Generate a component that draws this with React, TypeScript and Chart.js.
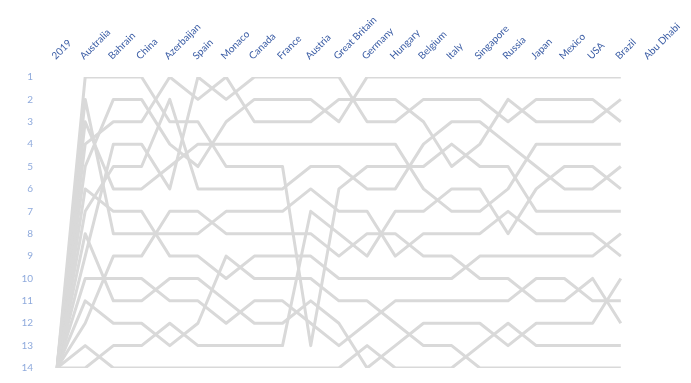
import { useEffect, useRef } from "react";
import { Chart, registerables } from "chart.js";

Chart.register(...registerables);

const categories = [
  "2019", "Australia", "Bahrain", "China", "Azerbaijan", "Spain", "Monaco", "Canada",
  "France", "Austria", "Great Britain", "Germany", "Hungary", "Belgium", "Italy",
  "Singapore", "Russia", "Japan", "Mexico", "USA", "Brazil", "Abu Dhabi",
];

const rankTicks = [1, 2, 3, 4, 5, 6, 7, 8, 9, 10, 11, 12, 13, 14];

const s1 = [14, 1, 1, 1, 3, 3, 5, 5, 5, 13, 6, 5, 5, 5, 4, 5, 5, 7, 7, 7, 7];
const s2 = [14, 2, 8, 8, 8, 8, 7, 7, 7, 6, 7, 7, 9, 8, 8, 8, 7, 8, 8, 8, 9];
const s3 = [14, 3, 6, 6, 5, 4, 4, 4, 4, 4, 4, 4, 4, 6, 7, 7, 6, 4, 4, 4, 4];
const s4 = [14, 4, 3, 3, 1, 2, 1, 3, 3, 3, 2, 2, 2, 3, 5, 4, 2, 3, 3, 3, 2];
const s5 = [14, 5, 2, 2, 4, 5, 3, 2, 2, 2, 3, 1, 1, 1, 1, 1, 1, 1, 1, 1, 1];
const s6 = [14, 6, 7, 7, 9, 9, 10, 9, 9, 9, 10, 10, 10, 10, 10, 9, 9, 9, 9, 9, 8];
const s7 = [14, 7, 5, 5, 2, 6, 6, 6, 6, 5, 5, 6, 6, 4, 3, 3, 4, 5, 6, 6, 5];
const s8 = [14, 8, 11, 11, 10, 10, 11, 12, 12, 11, 12, 14, 13, 12, 12, 12, 13, 12, 12, 12, 10];
const s9 = [14, 9, 4, 4, 6, 1, 2, 1, 1, 1, 1, 3, 3, 2, 2, 2, 3, 2, 2, 2, 3];
const s10 = [14, 10, 10, 10, 11, 11, 12, 11, 11, 12, 13, 12, 11, 11, 11, 11, 11, 10, 10, 11, 11];
const s11 = [14, 11, 12, 12, 13, 12, 9, 10, 10, 10, 11, 11, 12, 13, 13, 14, 14, 14, 14, 14, 14];
const s12 = [14, 12, 9, 9, 7, 7, 8, 8, 8, 8, 9, 8, 8, 9, 9, 10, 10, 11, 11, 10, 12];
const s13 = [14, 13, 14, 14, 14, 14, 14, 14, 14, 14, 14, 13, 14, 14, 14, 13, 12, 13, 13, 13, 13];
const s14 = [14, 14, 13, 13, 12, 13, 13, 13, 13, 7, 8, 9, 7, 7, 6, 6, 8, 6, 5, 5, 6];

const allSeries = [s1, s2, s3, s4, s5, s6, s7, s8, s9, s10, s11, s12, s13, s14];

export default function App() {
  const ref = useRef<HTMLCanvasElement | null>(null);

  useEffect(() => {
    if (!ref.current) return;
    const chart = new Chart(ref.current, {
      type: "line",
      data: {
        labels: categories,
        datasets: allSeries.map((s, i) => ({
          label: "Series " + (i + 1),
          data: s,
          borderColor: "#D9D9D9",
          backgroundColor: "#D9D9D9",
          borderWidth: 3,
          pointRadius: 0,
          pointHoverRadius: 0,
          fill: false,
          tension: 0,
          borderJoinStyle: "round" as const,
        })),
      },
      options: {
        animation: false,
        responsive: false,
        maintainAspectRatio: false,
        layout: { padding: { left: 0, right: 42, top: 0, bottom: 15 } },
        plugins: { legend: { display: false }, tooltip: { enabled: false } },
        scales: {
          x: {
            position: "top",
            offset: false,
            grid: { display: false, drawTicks: false },
            border: { display: false },
            ticks: {
              autoSkip: false,
              minRotation: 45,
              maxRotation: 45,
              padding: 15,
              labelOffset: 5,
              color: "#3B5DA5",
              font: { family: "Lato", size: 10 },
            },
            afterFit: (s: any) => {
              s.height = 77;
              s.paddingLeft = 0;
              s.paddingRight = 0;
            },
          },
          y: {
            reverse: true,
            min: 1,
            max: 14,
            afterBuildTicks: (s: any) => {
              s.ticks = rankTicks.map((v) => ({ value: v }));
            },
            ticks: {
              padding: 24,
              color: "#8FAADC",
              font: { family: "Lato", size: 10 },
            },
            grid: { display: false, drawTicks: false },
            border: { display: false },
            afterFit: (s: any) => {
              s.width = 57;
              s.paddingTop = 0;
              s.paddingBottom = 0;
            },
          },
        },
      },
    });
    return () => chart.destroy();
  }, []);

  return (
    <div style={{ position: "absolute", left: 0, top: 0, width: 691, height: 383, background: "#fff" }}>
      <canvas ref={ref} width={691} height={383} style={{ display: "block" }} />
    </div>
  );
}
